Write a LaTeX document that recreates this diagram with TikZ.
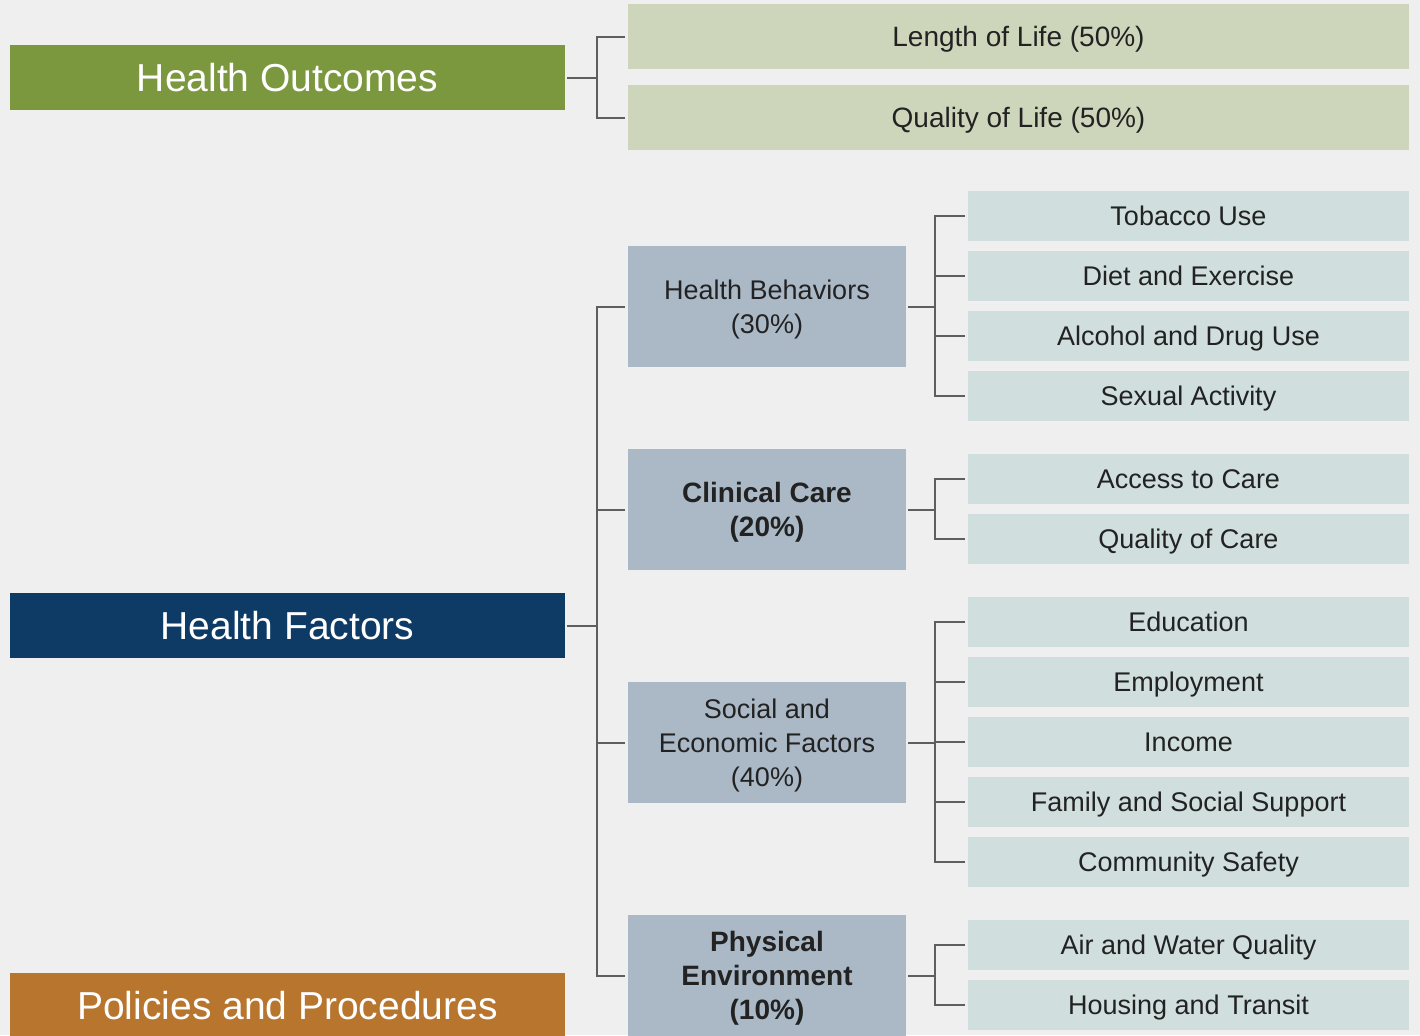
\documentclass[tikz,border=0pt]{standalone}
\usepackage{fontspec}
\setmainfont{Liberation Sans}
\definecolor{bg}{HTML}{EFEFEF}
\definecolor{hogreen}{HTML}{7B983F}
\definecolor{lgreen}{HTML}{CDD6BA}
\definecolor{navy}{HTML}{0E3A66}
\definecolor{orng}{HTML}{B8752E}
\definecolor{slate}{HTML}{ABB9C7}
\definecolor{pale}{HTML}{D0DEDE}
\definecolor{linegray}{HTML}{5E5E5E}
\definecolor{txt}{HTML}{222222}
\tikzset{
  bigbox/.style={text height=16.8pt, text depth=2.7pt, inner sep=0pt, minimum width=277.5pt, minimum height=32.5pt, text=white, font=\fontsize{19.5}{22}\selectfont},
  topbox/.style={text height=12pt, text depth=2pt, fill=lgreen, inner sep=0pt, minimum width=390.5pt, minimum height=32.5pt, text=txt, font=\fontsize{14}{17}\selectfont},
  midbox/.style={fill=slate, inner sep=0pt, minimum width=139pt, minimum height=60.5pt, text=txt, align=center, text depth=0pt, font=\fontsize{13.5}{17}\selectfont},
  midbold/.style={midbox, font=\fontsize{14}{17}\selectfont\bfseries},
  leafbox/.style={text height=11.6pt, text depth=1.9pt, fill=pale, inner sep=0pt, minimum width=220.5pt, minimum height=25pt, text=txt, font=\fontsize{13.5}{16}\selectfont},
  conn/.style={draw=linegray, line width=1pt, shorten >=1.5pt},
  connstart/.style={draw=linegray, line width=1pt, shorten <=1pt}
}
\begin{document}
\begin{tikzpicture}[x=0.5pt,y=-0.5pt]
\fill[bg] (0,0) rectangle (1420,1035);
\useasboundingbox (0,0) rectangle (1420,1035);
\begin{scope}
\clip (0,0) rectangle (1420,1035);
% big boxes
\node[bigbox, fill=hogreen] (ho) at (287.5,77.5) {Health Outcomes};
\node[bigbox, fill=navy] (hf) at (287.5,625.5) {Health Factors};
\node[bigbox, fill=orng] (pp) at (287.5,1005.5) {Policies and Procedures};
% outcomes
\node[topbox] (len) at (1018.5,36.5) {Length of Life (50\%)};
\node[topbox] (qol) at (1018.5,117.5) {Quality of Life (50\%)};
% middle
\node[midbox] (hb) at (767,306.5) {Health Behaviors\\(30\%)};
\node[midbold] (cc) at (767,509.5) {Clinical Care\\(20\%)};
\node[midbox] (se) at (767,742.5) {Social and\\Economic Factors\\(40\%)};
\node[midbold] (pe) at (767,975.5) {Physical\\Environment\\(10\%)};
% leaves
\node[leafbox] (l1) at (1188.5,216) {Tobacco Use};
\node[leafbox] (l2) at (1188.5,276) {Diet and Exercise};
\node[leafbox] (l3) at (1188.5,336) {Alcohol and Drug Use};
\node[leafbox] (l4) at (1188.5,395.5) {Sexual Activity};
\node[leafbox] (l5) at (1188.5,479) {Access to Care};
\node[leafbox] (l6) at (1188.5,539) {Quality of Care};
\node[leafbox] (l7) at (1188.5,622) {Education};
\node[leafbox] (l8) at (1188.5,682) {Employment};
\node[leafbox] (l9) at (1188.5,742) {Income};
\node[leafbox] (l10) at (1188.5,802) {Family and Social Support};
\node[leafbox] (l11) at (1188.5,862) {Community Safety};
\node[leafbox] (l12) at (1188.5,945) {Air and Water Quality};
\node[leafbox] (l13) at (1188.5,1005) {Housing and Transit};
% connectors outcomes
\draw[connstart] (ho.east) -- ++(32,0) coordinate (j1);
\draw[conn] (j1) |- (len.west);
\draw[conn] (j1) |- (qol.west);
% connectors factors
\draw[connstart] (hf.east) -- ++(32,0) coordinate (j2);
\foreach \m in {hb,cc,se,pe} { \draw[conn] (j2) |- (\m.west); }
% sub-connectors
\draw[connstart] (hb.east) -- ++(29,0) coordinate (k1);
\foreach \l in {l1,l2,l3,l4} { \draw[conn] (k1) |- (\l.west); }
\draw[connstart] (cc.east) -- ++(29,0) coordinate (k2);
\foreach \l in {l5,l6} { \draw[conn] (k2) |- (\l.west); }
\draw[connstart] (se.east) -- ++(29,0) coordinate (k3);
\foreach \l in {l7,l8,l9,l10,l11} { \draw[conn] (k3) |- (\l.west); }
\draw[connstart] (pe.east) -- ++(29,0) coordinate (k4);
\foreach \l in {l12,l13} { \draw[conn] (k4) |- (\l.west); }
\end{scope}
\end{tikzpicture}
\end{document}
